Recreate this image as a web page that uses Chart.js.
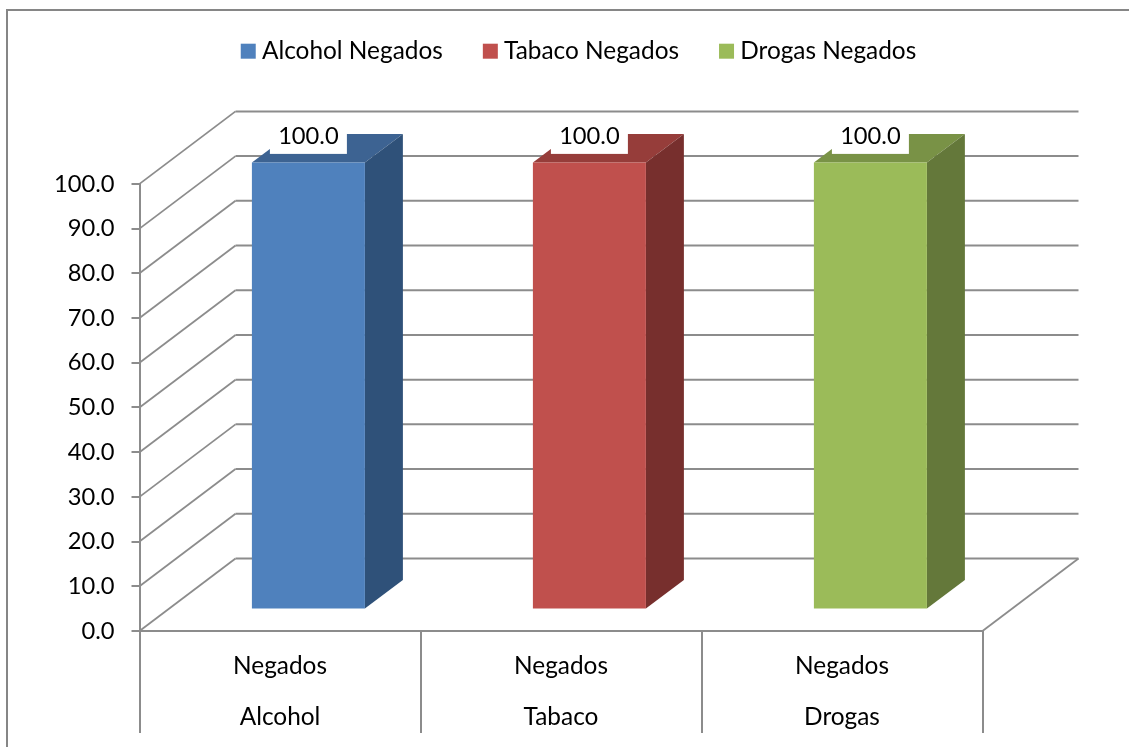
<!DOCTYPE html>
<html lang="es">
<head>
<meta charset="utf-8">
<title>Negados</title>
<script src="https://cdn.jsdelivr.net/npm/chart.js@4"></script>
<style>
  html, body { margin: 0; padding: 0; background: #fff; overflow: hidden; }
  canvas { display: block; }
</style>
</head>
<body>
<canvas id="chart" width="1129" height="747"></canvas>
<script>
const categories = [["Negados", "Alcohol"], ["Negados", "Tabaco"], ["Negados", "Drogas"]];
const seriesNames = ["Alcohol Negados", "Tabaco Negados", "Drogas Negados"];
const alcoholValues = [100.0, null, null];
const tabacoValues = [null, 100.0, null];
const drogasValues = [null, null, 100.0];

const frontColors = ["#4f81bd", "#c0504d", "#9bbb59"];
const topColors = ["#3d6392", "#963d3a", "#799246"];
const sideColors = ["#2f5179", "#772f2d", "#64783a"];

const LINE_COLOR = "#8c8c8c";
const FAMILY = "Lato, Carlito, Calibri, sans-serif";
const TEXT_SIZE = 24.4, NUMBER_SIZE = 23.7;

// Depth of the box floor, and where the columns sit inside it
const WALL_DX = 96, WALL_DY = 72.5;
const BAR_SHIFT_X = 28.4, BAR_SHIFT_Y = 21.5;
const BAR_DX = 38, BAR_DY = 28.5;

function fillPoly(ctx, color, pts) {
    ctx.fillStyle = color;
    ctx.beginPath();
    pts.forEach((p, i) => i ? ctx.lineTo(p[0], p[1]) : ctx.moveTo(p[0], p[1]));
    ctx.closePath();
    ctx.fill();
}

function line(ctx, x1, y1, x2, y2, width) {
    ctx.lineWidth = width;
    ctx.beginPath();
    ctx.moveTo(x1, y1);
    ctx.lineTo(x2, y2);
    ctx.stroke();
}

const box3d = {
    id: "box3d",

    // Legend sits off centre, under the chart frame line
    afterLayout(chart) {
        chart.legend.left = 34;
        chart.legend.right = 1129;
        chart.legend.top = -7;
    },

    beforeDraw(chart) {
        const ctx = chart.ctx;
        ctx.save();
        ctx.strokeStyle = "#868686";
        ctx.lineWidth = 2;
        ctx.beginPath();
        ctx.moveTo(7, 747);
        ctx.lineTo(7, 10);
        ctx.lineTo(1129, 10);
        ctx.stroke();
        ctx.restore();
    },

    // Side wall and back wall grid, one line per y tick
    beforeDatasetsDraw(chart) {
        const ctx = chart.ctx;
        const x = chart.scales.x, y = chart.scales.y;
        ctx.save();
        ctx.strokeStyle = LINE_COLOR;
        y.ticks.forEach(t => {
            const py = y.getPixelForValue(t.value);
            line(ctx, x.left, py, x.left + WALL_DX, py - WALL_DY, 1.8);
            line(ctx, x.left + WALL_DX, py - WALL_DY, x.right + WALL_DX, py - WALL_DY, 2);
        });
        line(ctx, x.right, y.bottom, x.right + WALL_DX, y.bottom - WALL_DY, 1.8);
        ctx.restore();
    },

    // Columns are drawn here as front, top and side faces
    beforeDatasetDraw(chart, args) {
        const ctx = chart.ctx;
        const i = args.index;
        args.meta.data.forEach((bar, n) => {
            if (args.meta._parsed[n].y === null || isNaN(args.meta._parsed[n].y)) return;
            const l = bar.x - bar.width / 2 + BAR_SHIFT_X;
            const r = bar.x + bar.width / 2 + BAR_SHIFT_X;
            const t = bar.y - BAR_SHIFT_Y;
            const b = bar.base - BAR_SHIFT_Y;
            fillPoly(ctx, topColors[i], [[l, t], [r, t], [r + BAR_DX, t - BAR_DY], [l + BAR_DX, t - BAR_DY]]);
            fillPoly(ctx, sideColors[i], [[r, t], [r + BAR_DX, t - BAR_DY], [r + BAR_DX, b - BAR_DY], [r, b]]);
            fillPoly(ctx, frontColors[i], [[l, t], [r, t], [r, b], [l, b]]);
        });
        return false;
    },

    // Value labels on a white plate that covers part of the column top
    afterDatasetsDraw(chart) {
        const ctx = chart.ctx;
        ctx.save();
        ctx.font = NUMBER_SIZE + "px " + FAMILY;
        ctx.textAlign = "center";
        ctx.textBaseline = "middle";
        chart.data.datasets.forEach((ds, i) => {
            chart.getDatasetMeta(i).data.forEach((bar, n) => {
                if (ds.data[n] === null) return;
                const cx = bar.x + BAR_SHIFT_X;
                ctx.fillStyle = "#fff";
                ctx.fillRect(cx - 38.5, bar.y - 66, 77, 36);
                ctx.fillStyle = "#000";
                ctx.fillText(ds.data[n].toFixed(1), cx, bar.y - 47.5);
            });
        });
        ctx.restore();
    }
};

const seriesValues = [alcoholValues, tabacoValues, drogasValues];

new Chart(document.getElementById("chart"), {
    type: "bar",
    data: {
        labels: categories,
        datasets: seriesNames.map((name, i) => ({
            label: name,
            data: seriesValues[i],
            grouped: false,
            backgroundColor: frontColors[i],
            borderColor: frontColors[i],
            // the stroke widens the legend swatch without moving its text
            borderWidth: 12,
            barPercentage: 113 / 281,
            categoryPercentage: 1
        }))
    },
    options: {
        responsive: false,
        animation: false,
        layout: { padding: { top: 103.5, right: 146.5, left: 0, bottom: 0 } },
        plugins: {
            tooltip: { enabled: false },
            legend: {
                position: "top",
                labels: {
                    boxWidth: 3,
                    boxHeight: 3,
                    padding: 46,
                    color: "#000",
                    font: { family: FAMILY, size: TEXT_SIZE }
                }
            }
        },
        scales: {
            x: {
                afterFit: s => { s.height = 116; },
                border: { color: LINE_COLOR, width: 2 },
                grid: { drawOnChartArea: false, color: LINE_COLOR, lineWidth: 2, tickLength: 102 },
                ticks: {
                    color: "#000",
                    font: { family: FAMILY, size: TEXT_SIZE, lineHeight: 51 / TEXT_SIZE },
                    padding: -92,
                    maxRotation: 0
                }
            },
            y: {
                min: 0,
                max: 100,
                afterFit: s => { s.width = 139.5; },
                border: { color: LINE_COLOR, width: 2 },
                grid: { drawOnChartArea: false, color: LINE_COLOR, lineWidth: 2, tickLength: 8 },
                ticks: {
                    stepSize: 10,
                    color: "#000",
                    font: { family: FAMILY, size: NUMBER_SIZE },
                    padding: 17,
                    callback: v => v.toFixed(1)
                }
            }
        }
    },
    plugins: [box3d]
});
</script>
</body>
</html>
